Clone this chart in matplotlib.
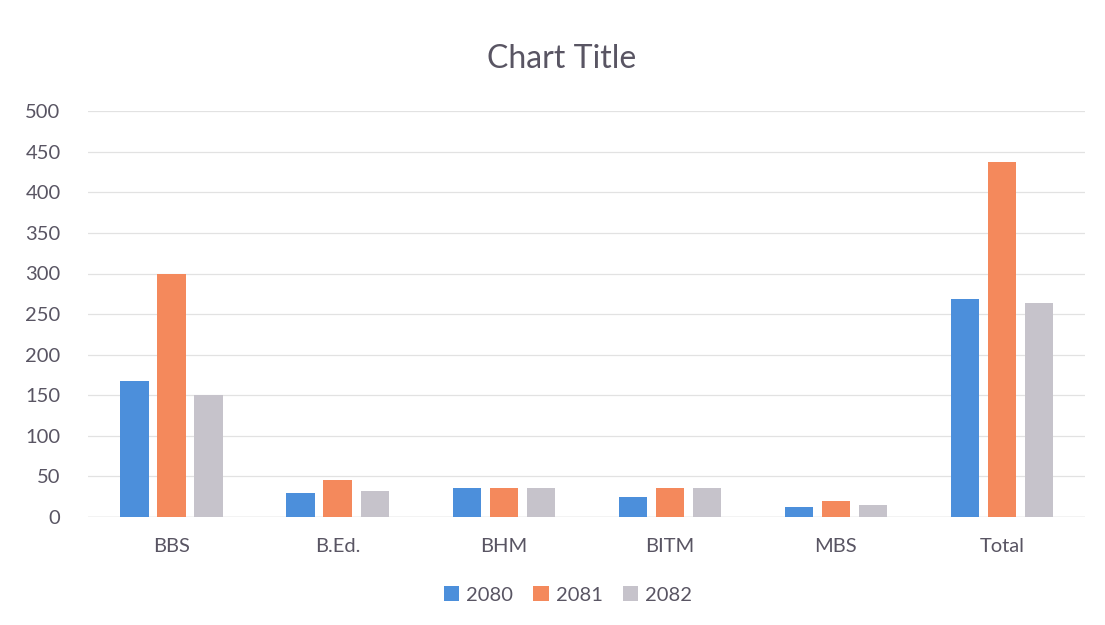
import numpy as np
import matplotlib.pyplot as plt

categories = ["BBS", "B.Ed.", "BHM", "BITM", "MBS", "Total"]
years = ["2080", "2081", "2082"]
values_2080 = [168, 30, 35, 24, 12, 268]
values_2081 = [300, 45, 35, 35, 19, 438]
values_2082 = [150, 32, 35, 35, 15, 264]

colors = ["#4C8FDB", "#F4895C", "#C6C3CB"]
text_color = "#595563"

plt.rcParams["font.family"] = ["Lato", "DejaVu Sans"]

fig = plt.figure(figsize=(11.05, 6.25), dpi=100)
ax = fig.add_axes([0.08, 0.173, 0.902, 0.649])

x = np.arange(len(categories))
width = 0.17
step = 0.223
for i, (vals, yr) in enumerate(zip([values_2080, values_2081, values_2082], years)):
    ax.bar(x + (i - 1) * step, vals, width, color=colors[i], label=yr, zorder=3)

ax.set_ylim(0, 500)
ax.set_xlim(-0.5, len(categories) - 0.5)
ax.set_yticks(range(0, 501, 50))
ax.set_xticks(x)
ax.set_xticklabels(categories)
ax.grid(axis="y", color="#E2E2E2", linewidth=0.9, zorder=0)
ax.axhline(0, color="#D6D6D6", linewidth=1, zorder=2)
for s in ax.spines.values():
    s.set_visible(False)
ax.tick_params(length=0, labelsize=14.5, labelcolor=text_color)
ax.tick_params(axis="x", pad=15)
ax.tick_params(axis="y", pad=20)

fig.suptitle("Chart Title", x=0.508, y=0.93, fontsize=23, color=text_color)
fig.legend(loc="center", bbox_to_anchor=(0.514, 0.048), ncol=3, frameon=False,
           fontsize=14.5, labelcolor=text_color, handlelength=0.75, handleheight=0.75,
           handletextpad=0.35, columnspacing=1.0)

fig.savefig("out.png", dpi=100, facecolor="white")
